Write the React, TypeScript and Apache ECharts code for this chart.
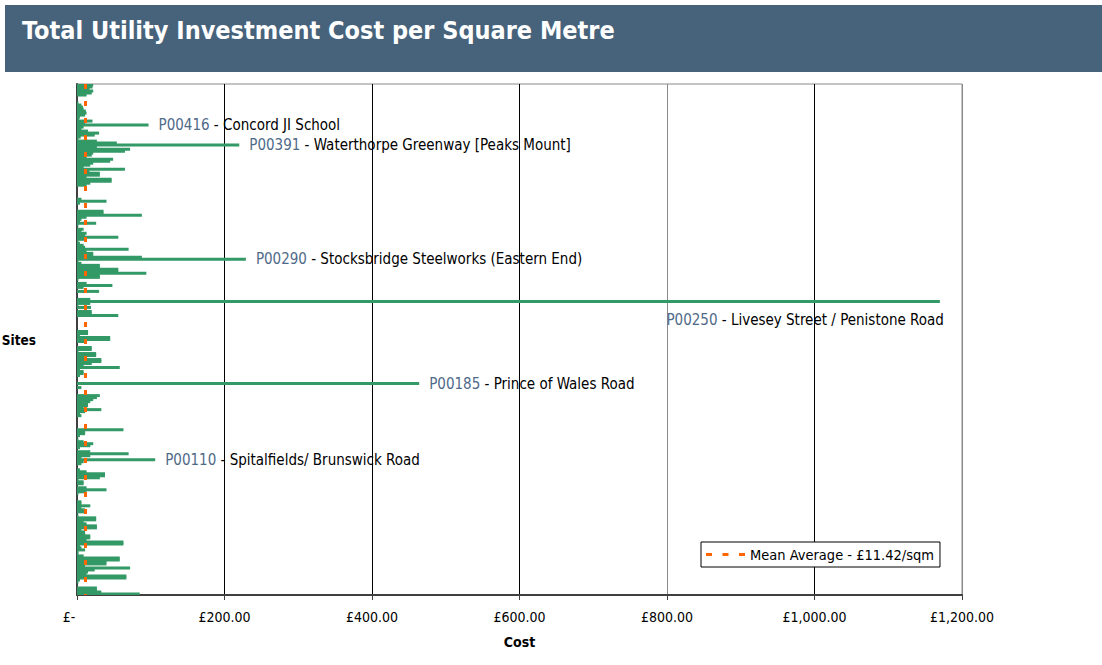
import React, { useEffect, useRef } from "react";
import * as echarts from "echarts";

const titleText = "Total Utility Investment Cost per Square Metre";
const xTicks = [0, 200, 400, 600, 800, 1000, 1200];
const meanValue = 11.42;
const meanLabel = "Mean Average - £11.42/sqm";

// cost per sqm for each site, top of chart first
const costs = [
  22, 21, 17, 22, 20, 13, 0, 0, 0, 2,
  6, 8, 9, 12, 13, 11, 4, 3, 21, 11,
  97, 9, 6, 15, 30, 24, 5, 2, 27, 54,
  220, 27, 72, 65, 22, 20, 13, 49, 45, 22,
  18, 9, 65, 17, 31, 31, 13, 47, 47, 18,
  13, 0, 0, 0, 0, 0, 0, 6, 40, 4,
  0, 0, 0, 36, 36, 88, 13, 6, 4, 26,
  2, 0, 9, 6, 13, 11, 56, 13, 2, 4,
  9, 11, 70, 13, 22, 22, 88, 229, 2, 6,
  31, 31, 56, 56, 94, 31, 31, 2, 0, 13,
  48, 9, 0, 30, 0, 0, 0, 18, 1170, 18,
  2, 19, 0, 20, 20, 56, 0, 0, 0, 0,
  0, 0, 0, 15, 15, 4, 45, 45, 11, 0,
  0, 20, 20, 2, 26, 26, 13, 33, 33, 20,
  9, 58, 4, 9, 9, 4, 0, 0, 0, 464,
  0, 6, 0, 0, 0, 31, 27, 22, 18, 15,
  15, 9, 33, 11, 4, 6, 0, 0, 0, 0,
  0, 0, 63, 11, 11, 4, 0, 2, 9, 22,
  18, 4, 0, 18, 70, 18, 6, 106, 9, 6,
  0, 0, 4, 13, 38, 38, 31, 2, 9, 9,
  0, 13, 40, 13, 2, 0, 0, 0, 6, 6,
  18, 6, 11, 12, 0, 2, 26, 26, 9, 13,
  27, 27, 6, 11, 11, 18, 18, 13, 63, 63,
  4, 6, 11, 2, 2, 9, 58, 58, 40, 40,
  11, 72, 24, 15, 13, 67, 67, 4, 2, 0,
  0, 27, 27, 33, 85,
];

const sites = costs.map((_, i) => `Site ${i + 1}`);

const annotatedRows = [20, 30, 87, 108, 149, 187];
const annotatedCodes = ["P00416", "P00391", "P00290", "P00250", "P00185", "P00110"];
const annotatedNames = [
  "Concord JI School",
  "Waterthorpe Greenway [Peaks Mount]",
  "Stocksbridge Steelworks (Eastern End)",
  "Livesey Street / Penistone Road",
  "Prince of Wales Road",
  "Spitalfields/ Brunswick Road",
];
const labelBelow = [false, false, false, true, false, false];

const FONT = "'DejaVu Sans Condensed', 'DejaVu Sans', sans-serif";

export default function App() {
  const ref = useRef<HTMLDivElement>(null);
  useEffect(() => {
    if (!ref.current) return;
    const chart = echarts.init(ref.current, null, { renderer: "svg" });
    const barData = costs.map((v, i) => {
      const k = annotatedRows.indexOf(i);
      if (k < 0) return v;
      const label: any = {
        show: true,
        formatter: `{c|${annotatedCodes[k]}}{n| - ${annotatedNames[k]}}`,
        rich: {
          c: { color: "#4F6A88", fontSize: 15, fontFamily: FONT },
          n: { color: "#000", fontSize: 15, fontFamily: FONT },
        },
      };
      if (labelBelow[k]) {
        label.position = ["100%", "100%"];
        label.align = "right";
        label.verticalAlign = "top";
        label.offset = [4, 10];
      } else {
        label.position = "right";
        label.distance = 10;
      }
      return { value: v, label };
    });
    chart.setOption({
      animation: false,
      textStyle: { fontFamily: FONT },
      graphic: [
        {
          type: "rect",
          shape: { x: 5, y: 5, width: 1100, height: 67 },
          style: { fill: "#46637B" },
          z: 10,
        },
        {
          type: "text",
          x: 22,
          y: 30,
          style: {
            text: titleText,
            fill: "#fff",
            font: `bold 25px ${FONT}`,
            textVerticalAlign: "middle",
          },
          z: 11,
        },
      ],
      legend: {
        left: 701,
        top: 542,
        orient: "horizontal",
        backgroundColor: "#fff",
        borderColor: "#000",
        borderWidth: 1,
        borderRadius: 0,
        padding: [5, 6, 5, 5],
        itemWidth: 39,
        itemHeight: 3,
        itemGap: 4,
        textStyle: { fontSize: 14.5, color: "#000", fontFamily: FONT },
        data: [
          {
            name: meanLabel,
            icon: "path://M0,0h6v3h-6z M16.5,0h6v3h-6z M33,0h6v3h-6z",
          },
        ],
      },
      grid: {
        left: 77,
        right: 140,
        top: 84,
        bottom: 70,
        containLabel: false,
        outerBoundsMode: "none",
        show: true,
        borderColor: "#8a8a8a",
        borderWidth: 1,
      },
      xAxis: {
        type: "value",
        min: xTicks[0],
        max: xTicks[xTicks.length - 1],
        interval: 200,
        name: "Cost",
        nameLocation: "middle",
        nameGap: 40,
        nameTextStyle: { fontWeight: "bold", fontSize: 14, color: "#000", fontFamily: FONT },
        axisLine: { show: true, lineStyle: { color: "#404040", width: 2 } },
        axisTick: { show: true, length: 5, lineStyle: { color: "#404040" } },
        axisLabel: {
          fontSize: 14,
          color: "#000",
          margin: 15,
          fontFamily: FONT,
          formatter: (v: number) =>
            v === 0
              ? "{z|£-}"
              : "£" + v.toLocaleString("en-GB", { minimumFractionDigits: 2, maximumFractionDigits: 2 }),
          rich: { z: { fontSize: 14, color: "#000", padding: [0, 16, 0, 0], fontFamily: FONT } },
        },
        splitLine: {
          show: true,
          lineStyle: { color: ["#000", "#000", "#000", "#000", "#8a8a8a", "#000", "#8a8a8a"], width: 1 },
        },
      },
      yAxis: {
        type: "category",
        data: sites,
        inverse: true,
        name: "Sites",
        nameLocation: "middle",
        nameGap: 41,
        nameRotate: 0,
        nameTextStyle: { fontWeight: "bold", fontSize: 13.5, color: "#000", fontFamily: FONT },
        axisLine: { show: true, lineStyle: { color: "#404040", width: 2 } },
        axisTick: { show: false },
        axisLabel: { show: false },
        splitLine: { show: false },
      },
      series: [
        {
          type: "bar",
          name: "Cost",
          data: barData,
          barWidth: 3,
          itemStyle: { color: "#339966" },
          markLine: {
            silent: true,
            symbol: "none",
            label: { show: false },
            lineStyle: { color: "#FF6600", type: [5, 12], width: 3 },
            data: [{ xAxis: meanValue }],
            z: 5,
          },
        },
        {
          type: "line",
          name: meanLabel,
          data: [],
          itemStyle: { color: "#FF6600" },
          lineStyle: { color: "#FF6600" },
        },
      ],
    });
    return () => chart.dispose();
  }, []);
  return (
    <div
      ref={ref}
      style={{ position: "fixed", left: 0, top: 0, width: 1102, height: 665, background: "#fff" }}
    />
  );
}
